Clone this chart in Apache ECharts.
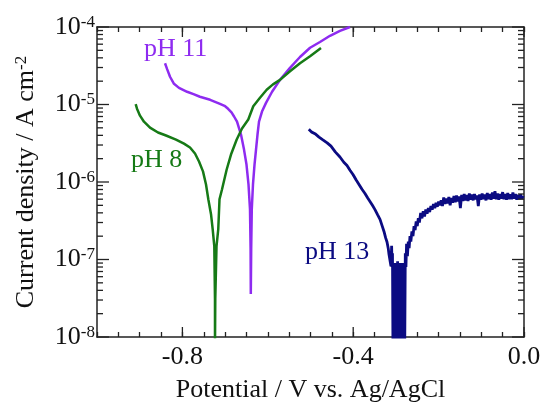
<!DOCTYPE html>
<html><head><meta charset="utf-8">
<script src="https://cdn.jsdelivr.net/npm/echarts@6/dist/echarts.min.js"></script>
<style>html,body{margin:0;padding:0;background:#fff}#c{width:544px;height:408px}</style>
</head><body><div id="c"></div>
<script>
// ---- data: [potential V, current density A cm^-2] ----
const pH11 = [
 [-0.8407,3.41e-5],[-0.836,2.88e-5],[-0.829,2.28e-5],[-0.8197,1.85e-5],[-0.808,1.64e-5],
 [-0.789,1.46e-5],[-0.774,1.36e-5],[-0.759,1.26e-5],[-0.735,1.15e-5],[-0.712,1.02e-5],
 [-0.700,9.5e-6],[-0.693,8.8e-6],[-0.685,7.9e-6],[-0.679,7.0e-6],
 [-0.6721,6.0e-6],[-0.6628,4.1e-6],[-0.6557,2.62e-6],[-0.6499,1.68e-6],[-0.6452,9.3e-7],
 [-0.6417,4.45e-7],[-0.6403,1.36e-7],[-0.6398,3.6e-8],[-0.6389,1.36e-7],[-0.6375,4.45e-7],
 [-0.6347,9.3e-7],[-0.6311,1.68e-6],[-0.6276,2.62e-6],[-0.6241,4.1e-6],[-0.6206,6.0e-6],
 [-0.6136,8.1e-6],[-0.6042,1.05e-5],[-0.590,1.46e-5],[-0.5714,2.08e-5],[-0.548,2.97e-5],
 [-0.5246,4.1e-5],[-0.501,5.4e-5],[-0.4778,6.4e-5],[-0.4543,7.7e-5],[-0.431,8.9e-5],[-0.4075,1.0e-4]
];
const pH8 = [
 [-0.9094,1.01e-5],[-0.9063,8.83e-6],[-0.8993,7.18e-6],[-0.890,6.0e-6],[-0.8759,5.04e-6],
 [-0.8571,4.35e-6],[-0.8384,3.98e-6],[-0.815,3.53e-6],[-0.7963,3.13e-6],[-0.7822,2.79e-6],
 [-0.7705,2.33e-6],[-0.7611,1.84e-6],[-0.7518,1.37e-6],[-0.7447,9.3e-7],[-0.7393,6.0e-7],
 [-0.733,3.84e-7],[-0.7291,2.46e-7],[-0.7253,1.49e-7],[-0.7237,3.1e-8],[-0.7237,7e-9],
 [-0.7230,3.1e-8],[-0.7201,1.49e-7],[-0.716,2.46e-7],[-0.7131,6.0e-7],[-0.7073,8.0e-7],
 [-0.6963,1.45e-6],[-0.6862,2.26e-6],[-0.6728,3.53e-6],[-0.6604,4.89e-6],[-0.6457,6.4e-6],
 [-0.634,9.5e-6],[-0.6183,1.22e-5],[-0.6026,1.55e-5],[-0.5878,1.82e-5],[-0.5714,2.08e-5],
 [-0.548,2.68e-5],[-0.5246,3.41e-5],[-0.501,4.2e-5],[-0.4754,5.37e-5]
];
const pH13 = [
 [-0.504,4.8e-6],[-0.497,4.4e-6],[-0.4895,4.2e-6],[-0.480,3.8e-6],[-0.471,3.5e-6],
 [-0.461,3.2e-6],[-0.452,2.9e-6],[-0.442,2.45e-6],[-0.431,2.1e-6],[-0.422,1.8e-6],
 [-0.4145,1.63e-6],[-0.4075,1.42e-6],[-0.4005,1.25e-6],[-0.393,1.06e-6],[-0.3864,9.3e-7],
 [-0.379,8.0e-7],[-0.3724,7.1e-7],[-0.366,6.2e-7],[-0.3607,5.6e-7],[-0.355,5.0e-7],
 [-0.349,4.4e-7],[-0.343,3.8e-7],[-0.3372,3.3e-7],[-0.332,2.7e-7],[-0.3279,2.3e-7],
 [-0.324,1.9e-7],[-0.3208,1.68e-7],[-0.318,1.4e-7],[-0.3162,1.17e-7],[-0.3135,9.5e-8],
 [-0.3115,8.2e-8],[-0.3100,1.5e-7],[-0.3090,8.0e-8],[-0.3080,1.2e-7],[-0.3068,5e-9],
 [-0.3050,8.5e-8],[-0.3035,5e-9],[-0.3020,9.0e-8],[-0.3005,5e-9],[-0.2990,8.0e-8],
 [-0.2975,5e-9],[-0.2960,9.5e-8],[-0.2945,5e-9],[-0.2930,8.5e-8],[-0.2915,5e-9],
 [-0.2900,9.0e-8],[-0.2885,5e-9],[-0.2870,8.0e-8],[-0.2855,5e-9],[-0.2840,9.0e-8],
 [-0.2825,5e-9],[-0.2810,8.5e-8],[-0.2795,5e-9],[-0.2780,1.2e-7],[-0.2765,8.0e-8],
 [-0.2750,1.6e-7],[-0.2730,1.1e-7],[-0.2710,1.7e-7],[-0.2690,1.4e-7],[-0.2670,2.0e-7],
 [-0.2650,1.7e-7],[-0.2625,2.3e-7],[-0.2600,2.0e-7],[-0.2575,2.7e-7],[-0.2550,2.4e-7],
 [-0.2525,3.1e-7],[-0.2500,2.7e-7],[-0.2475,3.4e-7],[-0.2450,3.0e-7],[-0.2420,4.0e-7],
 [-0.2390,3.4e-7],[-0.2360,4.2e-7],[-0.2330,3.6e-7],[-0.2300,4.4e-7],[-0.2270,3.9e-7],
 [-0.2240,4.6e-7],[-0.2210,4.1e-7],[-0.2180,4.9e-7],[-0.2150,4.4e-7],[-0.2120,5.2e-7],
 [-0.2090,4.6e-7],[-0.2060,5.4e-7],[-0.2030,4.8e-7],[-0.2000,5.6e-7],[-0.1970,5.0e-7],
 [-0.1940,5.8e-7],[-0.1910,4.9e-7],[-0.1880,6.3e-7],[-0.1850,5.2e-7],[-0.1820,6.1e-7],
 [-0.1790,5.3e-7],[-0.1760,6.4e-7],[-0.1730,5.0e-7],[-0.1700,6.2e-7],[-0.1670,5.4e-7],
 [-0.1640,6.6e-7],[-0.1610,5.5e-7],[-0.1580,6.7e-7],[-0.1550,5.6e-7],[-0.1520,6.5e-7],
 [-0.1490,4.6e-7],[-0.1460,6.8e-7],[-0.1430,5.7e-7],[-0.1400,7.0e-7],[-0.1370,5.8e-7],
 [-0.1340,6.8e-7],[-0.1310,5.7e-7],[-0.1280,7.1e-7],[-0.1250,5.9e-7],[-0.1220,6.9e-7],
 [-0.1190,5.8e-7],[-0.1160,7.0e-7],[-0.1130,6.0e-7],[-0.1100,6.7e-7],[-0.1070,4.9e-7],
 [-0.1040,6.9e-7],[-0.1010,5.9e-7],[-0.0980,7.1e-7],[-0.0950,6.0e-7],[-0.0920,6.9e-7],
 [-0.0890,5.8e-7],[-0.0860,7.2e-7],[-0.0830,6.0e-7],[-0.0800,7.0e-7],[-0.0770,5.9e-7],
 [-0.0740,7.3e-7],[-0.0710,6.1e-7],[-0.0680,7.6e-7],[-0.0650,6.0e-7],[-0.0620,7.1e-7],
 [-0.0590,5.9e-7],[-0.0560,7.0e-7],[-0.0530,6.1e-7],[-0.0500,7.4e-7],[-0.0470,6.0e-7],
 [-0.0440,7.0e-7],[-0.0410,5.9e-7],[-0.0380,7.2e-7],[-0.0350,6.0e-7],[-0.0320,6.9e-7],
 [-0.0290,6.0e-7],[-0.0260,7.3e-7],[-0.0230,6.1e-7],[-0.0200,7.0e-7],[-0.0170,5.9e-7],
 [-0.0140,6.8e-7],[-0.0110,6.0e-7],[-0.0080,6.9e-7],[-0.0050,6.1e-7],[-0.0020,6.6e-7]
];
const seriesNames = ['pH 11', 'pH 8', 'pH 13'];
const xMajor = [-0.8, -0.4, 0.0];
const xMajorLabels = ['-0.8', '-0.4', '0.0'];
const yMajor = [1e-8, 1e-7, 1e-6, 1e-5, 1e-4];
const yExponents = ['-8', '-7', '-6', '-5', '-4'];
const xTitle = 'Potential / V vs. Ag/AgCl';
const yTitle = 'Current density / A cm{s|-2}';
const X_MIN = -1, X_MAX = 0, Y_MIN = 1e-8, Y_MAX = 1e-4;

const yMinor = [];
for (let d = -8; d <= -5; d++) for (let k = 2; k <= 9; k++) yMinor.push(Number((k * Math.pow(10, d)).toPrecision(3)));

const FONT = '"Liberation Serif", "Times New Roman", serif';
const AX = '#222';
const TXT = '#111';
const C11 = '#8E2BF0', C8 = '#167A16', C13 = '#0B0B82';

const xTickItems = xMajor.map(v => [v, Y_MIN, 10]);
const yTickItems = yMinor.map(v => [X_MIN, v, 6]).concat(yMajor.map(v => [X_MIN, v, 12]));
function tickLine(x1, y1, x2, y2) {
  return { type: 'line', shape: { x1: x1, y1: y1, x2: x2, y2: y2 }, style: { stroke: AX, lineWidth: 1.3 } };
}

function xAxisDef(pos, withLabel) {
  const a = {
    type: 'value', position: pos, min: X_MIN, max: X_MAX, interval: 0.05, gridIndex: 0,
    axisLine: { show: true, onZero: false, lineStyle: { color: AX, width: 1.5 } },
    axisTick: { show: true, inside: true, length: 5, lineStyle: { color: AX, width: 1.3 } },
    axisLabel: { show: false },
    splitLine: { show: false }
  };
  if (withLabel) {
    a.axisLabel = {
      show: true, customValues: xMajor, margin: 7, color: TXT, fontFamily: FONT, fontSize: 26,
      formatter: v => xMajorLabels[xMajor.findIndex(m => Math.abs(m - v) < 1e-6)]
    };
    a.name = xTitle; a.nameLocation = 'middle'; a.nameGap = 40;
    a.nameTextStyle = { fontFamily: FONT, fontSize: 26, color: TXT };
  }
  return a;
}
function yAxisDef(pos, withLabel) {
  const a = {
    type: 'log', logBase: 10, position: pos, min: Y_MIN, max: Y_MAX, gridIndex: 0,
    axisLine: { show: true, onZero: false, lineStyle: { color: AX, width: 1.5 } },
    axisTick: { show: false },
    axisLabel: { show: false },
    splitLine: { show: false }, minorTick: { show: false }
  };
  if (withLabel) {
    a.axisLabel = {
      show: true, customValues: yMajor, margin: 2, color: TXT, fontFamily: FONT,
      formatter: v => {
        const i = yMajor.findIndex(m => Math.abs(Math.log10(m) - Math.log10(v)) < 1e-6);
        return '{b|10}{s|' + yExponents[i] + '}';
      },
      rich: {
        b: { fontFamily: FONT, fontSize: 26, color: TXT, lineHeight: 26 },
        s: { fontFamily: FONT, fontSize: 17, color: TXT, verticalAlign: 'top', lineHeight: 26 }
      }
    };
    a.name = yTitle; a.nameLocation = 'middle'; a.nameGap = 58;
    a.nameTextStyle = { fontFamily: FONT, fontSize: 26, color: TXT,
      rich: { s: { fontFamily: FONT, fontSize: 17, color: TXT, verticalAlign: 'top' } } };
  }
  return a;
}

const chart = echarts.init(document.getElementById('c'), null, { renderer: 'canvas' });
chart.setOption({
  animation: false,
  backgroundColor: '#fff',
  grid: { left: 97, right: 20, top: 27, bottom: 70, containLabel: false },
  xAxis: [xAxisDef('bottom', true), xAxisDef('top', false)],
  yAxis: [yAxisDef('left', true), yAxisDef('right', false)],
  series: [
    { name: seriesNames[0], type: 'line', data: pH11, showSymbol: false, symbol: 'none', clip: true,
      lineStyle: { color: C11, width: 2.5 }, xAxisIndex: 0, yAxisIndex: 0, z: 3 },
    { name: seriesNames[1], type: 'line', data: pH8, showSymbol: false, symbol: 'none', clip: true,
      lineStyle: { color: C8, width: 2.5 }, xAxisIndex: 0, yAxisIndex: 0, z: 4 },
    { name: seriesNames[2], type: 'line', data: pH13, showSymbol: false, symbol: 'none', clip: true,
      lineStyle: { color: C13, width: 2.8 }, xAxisIndex: 0, yAxisIndex: 0, z: 5 },
    { type: 'custom', silent: true, clip: false, z: 20, data: xTickItems, xAxisIndex: 0, yAxisIndex: 0,
      renderItem: (params, api) => {
        const v = api.value(0), len = api.value(2);
        const b = api.coord([v, Y_MIN]), t = api.coord([v, Y_MAX]);
        return { type: 'group', children: [tickLine(b[0], b[1], b[0], b[1] - len), tickLine(t[0], t[1], t[0], t[1] + len)] };
      } },
    { type: 'custom', silent: true, clip: false, z: 20, data: yTickItems, xAxisIndex: 0, yAxisIndex: 0,
      renderItem: (params, api) => {
        const v = api.value(1), len = api.value(2);
        const l = api.coord([X_MIN, v]), r = api.coord([X_MAX, v]);
        return { type: 'group', children: [tickLine(l[0], l[1], l[0] + len, l[1]), tickLine(r[0], r[1], r[0] - len, r[1])] };
      } }
  ],
  graphic: [
    { type: 'text', left: 144, top: 36, style: { text: seriesNames[0], fill: C11, font: '26px ' + FONT } },
    { type: 'text', left: 131, top: 147, style: { text: seriesNames[1], fill: C8, font: '26px ' + FONT } },
    { type: 'text', left: 305, top: 239, style: { text: seriesNames[2], fill: C13, font: '26px ' + FONT } }
  ]
});
</script>
</body></html>
